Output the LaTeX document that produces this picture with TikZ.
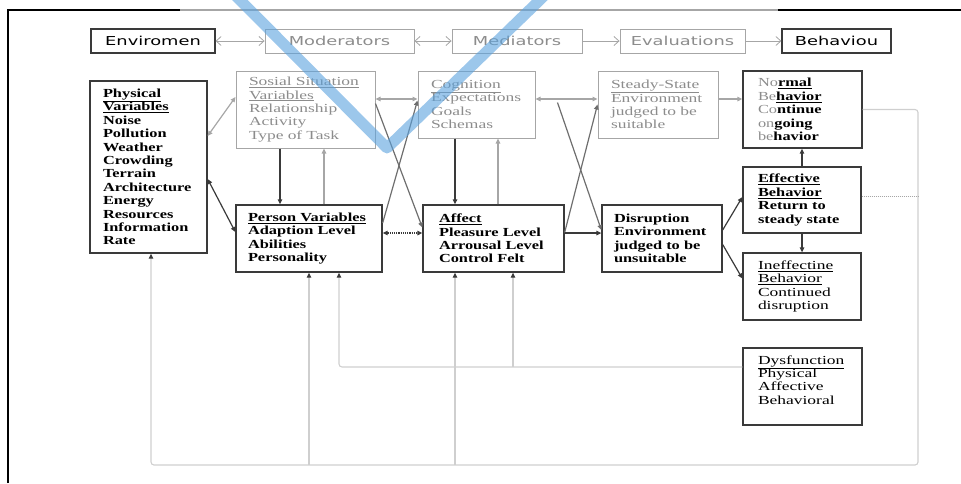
\documentclass[tikz,border=0pt]{standalone}
\usepackage{fontspec}
\usetikzlibrary{arrows.meta,calc}
\newfontfamily\boxfont[FakeStretch=1.33]{Liberation Serif}
\newfontfamily\plainfont[FakeStretch=1.42]{Liberation Serif}
\newfontfamily\hdrfont[FakeStretch=1.45]{DejaVu Sans}
\definecolor{ink}{HTML}{3A3A3A}
\definecolor{midink}{HTML}{6E6E6E}
\definecolor{pale}{HTML}{A6A6A6}
\definecolor{greytext}{HTML}{8C8C8C}
\definecolor{loopline}{HTML}{CFCFCF}
\definecolor{tick}{HTML}{5AA2DE}
\newcommand{\greypart}[1]{{\mdseries\color{greytext}#1}}
\tikzset{hbox/.style={draw=pale,line width=.9pt,font=\hdrfont\fontsize{12.3}{14}\selectfont,text=greytext,inner sep=0pt,minimum height=24pt},
hboxk/.style={hbox,draw=ink,line width=1.1pt,text=black},
box/.style={draw=ink,line width=1.3pt,align=left,inner sep=0pt,font=\boxfont\fontsize{12.3}{13.4}\selectfont\bfseries},
rbox/.style={box,font=\plainfont\fontsize{12.3}{13.4}\selectfont},
gbox/.style={box,draw=pale,line width=1pt,text=greytext,font=\plainfont\fontsize{12.3}{13.4}\selectfont},
hl/.style={pale,line width=.8pt,>={Straight Barb[length=5pt,width=9pt]}},
arr/.style={ink,line width=1.2pt,>={Triangle[length=5pt,width=4.5pt]}},
marr/.style={arr,midink},
garr/.style={arr,pale},
fb/.style={loopline,line width=1.1pt,rounded corners=3pt,-{Triangle[length=5pt,width=4.5pt,color=ink]}}}
\begin{document}
\begin{tikzpicture}[x=1pt,y=-1pt]
\useasboundingbox (0,0) rectangle (961,483);
% page frame
\draw[black,line width=1.2pt] (8,483) -- (8,10) -- (180,10);
\draw[pale,line width=1.2pt] (180,10) -- (778,10);
\draw[black,line width=1.2pt] (778,10) -- (961,10);
% headings
\node[hboxk,minimum width=124pt] (env) at (153,41) {Enviromen};
\node[hbox,minimum width=149pt] (mod) at (339.5,41) {Moderators};
\node[hbox,minimum width=130pt] (med) at (517,41) {Mediators};
\node[hbox,minimum width=125pt] (eval) at (682.5,41) {Evaluations};
\node[hboxk,minimum width=109pt] (beh) at (836.5,41) {Behaviou};
\draw[hl,<->] (env) -- (mod);
\draw[hl,<->] (mod) -- (med);
\draw[hl,->] (med) -- (eval);
\draw[hl,->] (eval) -- (beh);
% upper row
\node[box,minimum width=117pt,minimum height=172pt,text width=91pt] (phys) at (148.5,167) {\underline{Physical}\\\underline{Variables}\\Noise\\Pollution\\Weather\\Crowding\\Terrain\\Architecture\\Energy\\Resources\\Information\\Rate};
\node[gbox,minimum width=139pt,minimum height=77pt,text width=113pt] (soc) at (305.5,109.5) {\underline{Sosial Situation}\\\underline{Variables}\\Relationship\\Activity\\Type of Task};
\node[gbox,minimum width=117pt,minimum height=67pt,text width=91pt] (cog) at (476.5,104.5) {\underline{Cognition}\\Expectations\\Goals\\Schemas};
\node[gbox,minimum width=120pt,minimum height=67pt,text width=94pt] (stdy) at (658,104.5) {\underline{Steady-State}\\Environment\\judged to be\\suitable};
\node[box,minimum width=119pt,minimum height=77pt,text width=89pt] (norm) at (802.5,109.5) {\greypart{No}\underline{rmal}\\\greypart{Be}\underline{havior}\\\greypart{Co}ntinue\\\greypart{on}going\\\greypart{be}havior};
% lower row
\node[box,minimum width=146pt,minimum height=67pt,text width=122pt] (pers) at (309,238.5) {\underline{Person Variables}\\Adaption Level\\Abilities\\Personality};
\node[box,minimum width=141pt,minimum height=67pt,text width=109pt] (aff) at (493.5,238.5) {\underline{Affect}\\Pleasure Level\\Arrousal Level\\Control Felt};
\node[box,minimum width=120pt,minimum height=67pt,text width=96pt] (disr) at (662,238.5) {Disruption\\Environment\\judged to be\\unsuitable};
\node[box,minimum width=118pt,minimum height=66pt,text width=88pt] (eff) at (802,200) {\underline{Effective}\\\underline{Behavior}\\Return to\\steady state};
\node[rbox,minimum width=118pt,minimum height=67pt,text width=88pt] (ineff) at (802,286.5) {\underline{Ineffectine}\\\underline{Behavior}\\Continued\\disruption};
\node[rbox,minimum width=119pt,minimum height=77pt,text width=89pt] (dysf) at (802.5,386.5) {\underline{Dysfunction}\\Physical\\Affective\\Behavioral\\\mbox{}};
% links between the boxes
\draw[garr,<->] ([yshift=31pt]phys.east) -- ([yshift=12.5pt]soc.west);
\draw[arr,<->] ([yshift=-12pt]phys.east) -- ([yshift=6.5pt]pers.west);
\draw[arr,->] ([xshift=-25.5pt]soc.south) -- ([xshift=-25.5pt]soc.south |- pers.north);
\draw[garr,->] ([xshift=15pt]pers.north) -- ([xshift=15pt]pers.north |- soc.south);
\draw[garr,<->] ([yshift=10.5pt]soc.east) -- ([yshift=10.5pt]soc.east -| cog.west);
\draw[marr,->] ([yshift=6pt]soc.east) -- ([yshift=11pt]aff.west);
\draw[marr,->] ([yshift=15.5pt]pers.east) -- ([yshift=4pt]cog.west);
\draw[arr,<->,densely dotted] ([yshift=5.5pt]pers.east) -- ([yshift=5.5pt]pers.east -| aff.west);
\draw[arr,->] ([xshift=-21.5pt]cog.south) -- ([xshift=-21.5pt]cog.south |- aff.north);
\draw[garr,->] ([xshift=4.5pt]aff.north) -- ([xshift=4.5pt]aff.north |- cog.south);
\draw[garr,<->] ([yshift=5.5pt]cog.east) -- ([yshift=5.5pt]cog.east -| stdy.west);
\draw[marr,->] ([xshift=22pt,yshift=2pt]cog.east) -- ([yshift=8.5pt]disr.west);
\draw[marr,->] ([yshift=6pt]aff.east) -- (stdy.west);
\draw[arr,->] ([yshift=5.5pt]aff.east) -- ([yshift=5.5pt]aff.east -| disr.west);
\draw[garr,->] ([yshift=5.5pt]stdy.east) -- ([yshift=5.5pt]stdy.east -| norm.west);
\draw[arr,->] ([yshift=8.5pt]disr.east) -- ([yshift=3pt]eff.west);
\draw[arr,->] ([yshift=-6pt]disr.east) -- ([yshift=8pt]ineff.west);
\draw[arr,->] (eff.north) -- (eff.north |- norm.south);
\draw[arr,->] (eff.south) -- (eff.south |- ineff.north);
% feedback lines
\coordinate (corner) at (918,465);
\coordinate (physB) at ([xshift=2.5pt]phys.south);
\coordinate (affL) at ([xshift=-38.5pt]aff.south);
\coordinate (affR) at ([xshift=19.5pt]aff.south);
\coordinate (persR) at ([xshift=30pt]pers.south);
\coordinate (dysL) at ([yshift=19.5pt]dysf.west);
\draw[fb] (norm.east) -| (corner) -| (physB);
\draw[fb] (pers.south |- corner) -- (pers.south);
\draw[fb] (affL |- corner) -- (affL);
\draw[fb] (dysL) -| (persR);
\draw[fb] (affR |- dysL) -- (affR);
\draw[pale,line width=1pt,densely dotted] ([yshift=4pt]eff.east) -- ([yshift=4pt]eff.east -| corner);
% blue tick across the page
\draw[tick,opacity=.6,line width=11pt,line cap=round,line join=round] (235,-5) -- (387,148) -- (545,-5);
\end{tikzpicture}
\end{document}
